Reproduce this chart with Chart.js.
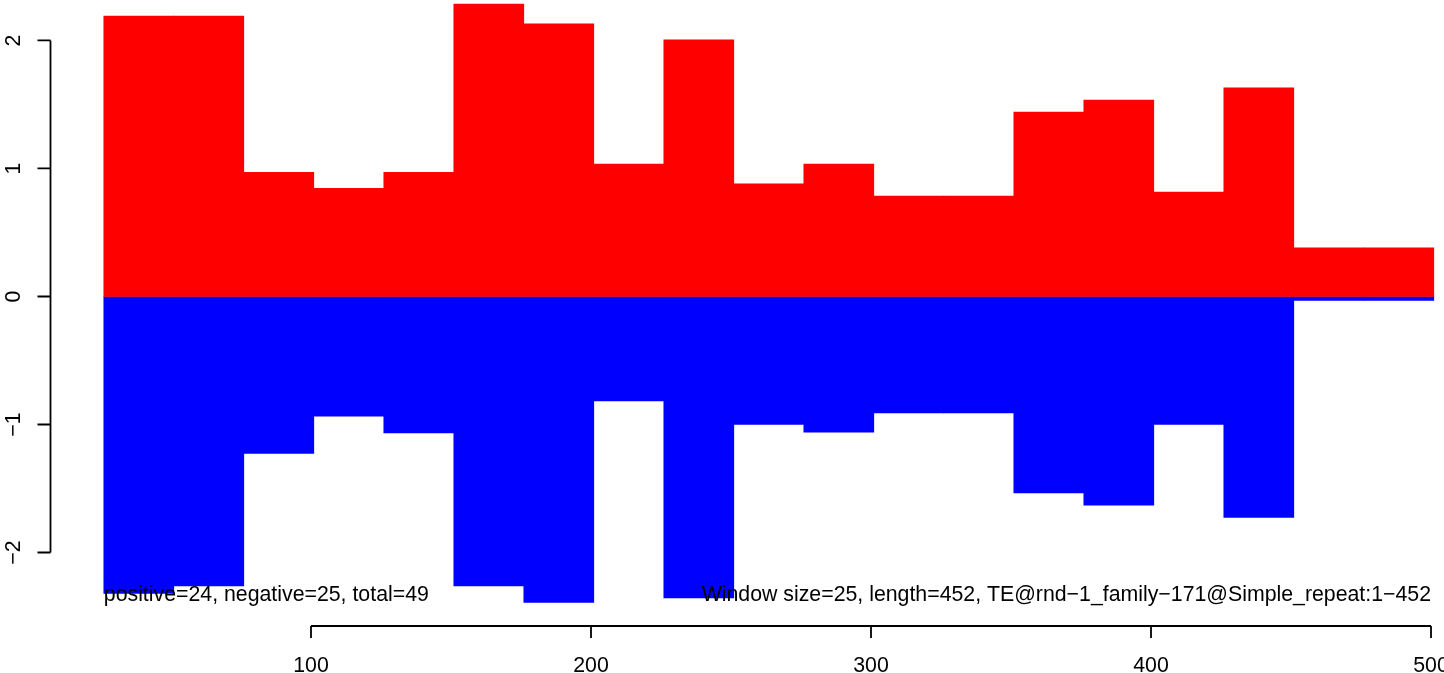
<!DOCTYPE html>
<html>
<head>
<meta charset="utf-8">
<script src="https://cdn.jsdelivr.net/npm/chart.js@4.4.1/dist/chart.umd.min.js"></script>
<style>
  html, body { margin: 0; padding: 0; background: #ffffff; }
  #wrap { width: 1444px; height: 673px; position: relative; }
</style>
</head>
<body>
<div id="wrap"><canvas id="c" width="1444" height="673"></canvas></div>
<script>
// ---- data ----
const windowSize = 25;
const windowStarts = [26, 51, 76, 101, 126, 151, 176, 201, 226, 251, 276, 301, 326, 351, 376, 401, 426, 451, 476];
const positiveValues = [2.19, 2.19, 0.97, 0.845, 0.97, 2.285, 2.13, 1.035, 2.005, 0.88, 1.035, 0.785, 0.785, 1.44, 1.535, 0.815, 1.63, 0.38, 0.38];
const negativeValues = [-2.32, -2.26, -1.225, -0.935, -1.065, -2.26, -2.39, -0.815, -2.355, -1.0, -1.06, -0.91, -0.91, -1.535, -1.63, -1.0, -1.725, -0.03, -0.03];
const yTicks = [-2, -1, 0, 1, 2];
const xTicks = [100, 200, 300, 400, 500];
const leftNote = "positive=24, negative=25, total=49";
const rightNote = "Window size=25, length=452, TE@rnd\u22121_family\u2212171@Simple_repeat:1\u2212452";

const centers = windowStarts.map(s => s + windowSize / 2);
const FONT = '21.3px "Liberation Sans", Arial, Helvetica, sans-serif';
const fmt = v => (v < 0 ? '\u2212' + Math.abs(v) : String(v));

const rAxes = {
  id: 'rAxes',
  afterDatasetsDraw(chart) {
    const ctx = chart.ctx;
    const xs = chart.scales.x, ys = chart.scales.y;
    ctx.save();
    ctx.fillStyle = '#000';
    ctx.font = FONT;
    ctx.textBaseline = 'alphabetic';
    ctx.textAlign = 'left';
    ctx.fillText(leftNote, xs.getPixelForValue(windowStarts[0]), ys.getPixelForValue(-2.38));
    ctx.textAlign = 'right';
    ctx.fillText(rightNote, xs.getPixelForValue(500), ys.getPixelForValue(-2.38));
    ctx.restore();
  },
  afterDraw(chart) {
    const ctx = chart.ctx;
    const xs = chart.scales.x, ys = chart.scales.y, ca = chart.chartArea;
    ctx.save();
    ctx.strokeStyle = '#000';
    ctx.fillStyle = '#000';
    ctx.lineWidth = 1.8;
    ctx.font = FONT;
    // y axis
    const ax = ca.left + 0.5;
    ctx.beginPath();
    ctx.moveTo(ax, ys.getPixelForValue(yTicks[0]));
    ctx.lineTo(ax, ys.getPixelForValue(yTicks[yTicks.length - 1]));
    yTicks.forEach(t => {
      const py = ys.getPixelForValue(t);
      ctx.moveTo(ax, py);
      ctx.lineTo(ax - 13, py);
    });
    ctx.stroke();
    yTicks.forEach(t => {
      const py = ys.getPixelForValue(t);
      ctx.save();
      ctx.translate(ax - 30.5, py);
      ctx.rotate(-Math.PI / 2);
      ctx.textAlign = 'center';
      ctx.textBaseline = 'alphabetic';
      ctx.fillText(fmt(t), 0, 0);
      ctx.restore();
    });
    // x axis
    const ay = ca.bottom;
    ctx.beginPath();
    ctx.moveTo(xs.getPixelForValue(xTicks[0]), ay);
    ctx.lineTo(xs.getPixelForValue(xTicks[xTicks.length - 1]), ay);
    xTicks.forEach(t => {
      const px = xs.getPixelForValue(t);
      ctx.moveTo(px, ay);
      ctx.lineTo(px, ay + 12);
    });
    ctx.stroke();
    ctx.textAlign = 'center';
    ctx.textBaseline = 'alphabetic';
    xTicks.forEach(t => {
      ctx.fillText(fmt(t), xs.getPixelForValue(t), ay + 46);
    });
    ctx.restore();
  }
};

new Chart(document.getElementById('c'), {
  type: 'bar',
  data: {
    datasets: [
      {
        label: 'positive',
        data: centers.map((c, i) => ({ x: c, y: positiveValues[i] })),
        backgroundColor: '#ff0000',
        borderWidth: 0,
        grouped: false,
        barPercentage: 1,
        categoryPercentage: 1
      },
      {
        label: 'negative',
        data: centers.map((c, i) => ({ x: c, y: negativeValues[i] })),
        backgroundColor: '#0000ff',
        borderWidth: 0,
        grouped: false,
        barPercentage: 1,
        categoryPercentage: 1
      }
    ]
  },
  options: {
    responsive: false,
    animation: false,
    events: [],
    layout: { padding: { left: 50, right: 0, top: 0, bottom: 47 } },
    scales: {
      x: { type: 'linear', display: false, offset: false, min: 6.786, max: 504.64 },
      y: { type: 'linear', display: false, min: -2.574, max: 2.316 }
    },
    plugins: { legend: { display: false }, tooltip: { enabled: false } }
  },
  plugins: [rAxes]
});
</script>
</body>
</html>
